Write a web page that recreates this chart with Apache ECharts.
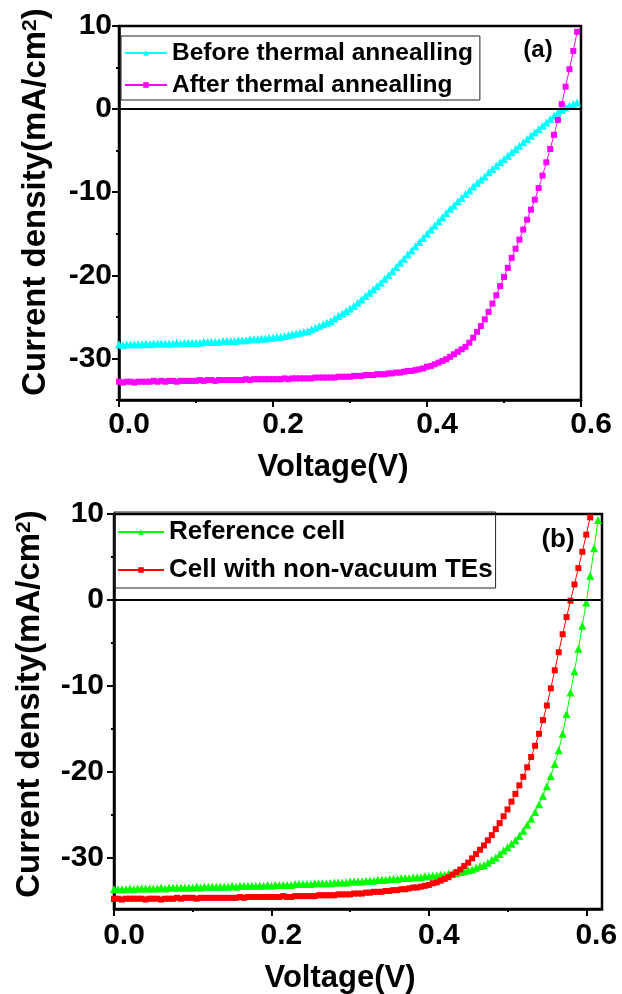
<!DOCTYPE html>
<html>
<head>
<meta charset="utf-8">
<script src="https://cdn.jsdelivr.net/npm/echarts@6.0.0/dist/echarts.min.js"></script>
<style>
  html, body { margin: 0; padding: 0; background: #fff; }
  #main { width: 622px; height: 994px; }
</style>
</head>
<body>
<div id="main"></div>
<script>
// voltage sweep (V), shared by both panels
const voltage = [
  0, 0.005, 0.01, 0.015, 0.02, 0.025, 0.03, 0.035, 0.04, 0.045,
  0.05, 0.055, 0.06, 0.065, 0.07, 0.075, 0.08, 0.085, 0.09, 0.095,
  0.1, 0.105, 0.11, 0.115, 0.12, 0.125, 0.13, 0.135, 0.14, 0.145,
  0.15, 0.155, 0.16, 0.165, 0.17, 0.175, 0.18, 0.185, 0.19, 0.195,
  0.2, 0.205, 0.21, 0.215, 0.22, 0.225, 0.23, 0.235, 0.24, 0.245,
  0.25, 0.255, 0.26, 0.265, 0.27, 0.275, 0.28, 0.285, 0.29, 0.295,
  0.3, 0.305, 0.31, 0.315, 0.32, 0.325, 0.33, 0.335, 0.34, 0.345,
  0.35, 0.355, 0.36, 0.365, 0.37, 0.375, 0.38, 0.385, 0.39, 0.395,
  0.4, 0.405, 0.41, 0.415, 0.42, 0.425, 0.43, 0.435, 0.44, 0.445,
  0.45, 0.455, 0.46, 0.465, 0.47, 0.475, 0.48, 0.485, 0.49, 0.495,
  0.5, 0.505, 0.51, 0.515, 0.52, 0.525, 0.53, 0.535, 0.54, 0.545,
  0.55, 0.555, 0.56, 0.565, 0.57, 0.575, 0.58, 0.585, 0.59, 0.595,
  0.6, 0.605, 0.61, 0.615
]

// (a) current density, mA/cm2
const beforeAnneal = [
  -28.3, -28.4, -28.3, -28.3, -28.3, -28.3, -28.3, -28.2, -28.3, -28.2,
  -28.2, -28.2, -28.2, -28.2, -28.2, -28.1, -28.2, -28.1, -28.1, -28.1,
  -28.1, -28.1, -28.0, -28.0, -28.0, -28.0, -28.0, -27.9, -27.9, -27.9,
  -27.9, -27.8, -27.8, -27.8, -27.7, -27.7, -27.7, -27.6, -27.6, -27.5,
  -27.5, -27.4, -27.4, -27.3, -27.2, -27.1, -27.0, -26.9, -26.8, -26.7,
  -26.5, -26.3, -26.1, -25.9, -25.7, -25.5, -25.2, -24.9, -24.6, -24.3,
  -24.0, -23.7, -23.3, -22.9, -22.5, -22.1, -21.7, -21.3, -20.9, -20.4,
  -20.0, -19.5, -19.0, -18.5, -18.0, -17.5, -17.0, -16.5, -16.0, -15.5,
  -15.0, -14.5, -14.0, -13.5, -13.0, -12.5, -12.0, -11.6, -11.1, -10.7,
  -10.2, -9.8, -9.3, -8.9, -8.5, -8.1, -7.6, -7.2, -6.8, -6.4,
  -6.0, -5.6, -5.2, -4.8, -4.4, -4.0, -3.6, -3.2, -2.8, -2.4,
  -2.0, -1.6, -1.2, -0.8, -0.4, -0.1, 0.2, 0.4, 0.6, 0.8
]
const afterAnneal = [
  -32.8, -32.9, -32.8, -32.8, -32.9, -32.8, -32.8, -32.8, -32.8, -32.7,
  -32.8, -32.7, -32.8, -32.7, -32.7, -32.8, -32.7, -32.7, -32.7, -32.7,
  -32.7, -32.6, -32.7, -32.6, -32.6, -32.7, -32.6, -32.6, -32.6, -32.6,
  -32.6, -32.6, -32.6, -32.5, -32.6, -32.5, -32.5, -32.5, -32.5, -32.5,
  -32.5, -32.5, -32.5, -32.4, -32.5, -32.4, -32.4, -32.4, -32.4, -32.4,
  -32.4, -32.3, -32.3, -32.3, -32.3, -32.3, -32.3, -32.2, -32.2, -32.2,
  -32.2, -32.1, -32.1, -32.1, -32.0, -32.0, -32.0, -31.9, -31.9, -31.9,
  -31.8, -31.8, -31.7, -31.7, -31.6, -31.5, -31.5, -31.4, -31.3, -31.2,
  -31.0, -30.9, -30.7, -30.5, -30.3, -30.1, -29.8, -29.5, -29.2, -28.9,
  -28.6, -28.1, -27.5, -26.8, -26.1, -25.3, -24.4, -23.4, -22.4, -21.3,
  -20.2, -19.1, -17.9, -16.8, -15.7, -14.5, -13.3, -12.1, -10.9, -9.5,
  -8.0, -6.4, -4.8, -3.1, -1.3, 0.6, 2.7, 4.8, 7.0, 9.3
]

// (b) current density, mA/cm2
const referenceCell = [
  -33.7, -33.7, -33.7, -33.7, -33.6, -33.7, -33.6, -33.6, -33.6, -33.6,
  -33.6, -33.6, -33.5, -33.6, -33.5, -33.5, -33.5, -33.5, -33.5, -33.5,
  -33.5, -33.4, -33.5, -33.4, -33.4, -33.4, -33.4, -33.4, -33.4, -33.4,
  -33.3, -33.4, -33.3, -33.3, -33.3, -33.3, -33.3, -33.3, -33.3, -33.2,
  -33.3, -33.2, -33.2, -33.2, -33.2, -33.2, -33.1, -33.1, -33.1, -33.1,
  -33.1, -33.0, -33.0, -33.0, -33.0, -33.0, -32.9, -32.9, -32.9, -32.9,
  -32.8, -32.8, -32.8, -32.8, -32.7, -32.7, -32.7, -32.6, -32.6, -32.6,
  -32.5, -32.5, -32.5, -32.4, -32.4, -32.4, -32.3, -32.3, -32.3, -32.2,
  -32.2, -32.1, -32.1, -32.0, -32.0, -31.9, -31.9, -31.8, -31.7, -31.6,
  -31.5, -31.4, -31.2, -31.0, -30.9, -30.6, -30.3, -30.0, -29.6, -29.2,
  -28.8, -28.4, -28.0, -27.5, -26.9, -26.2, -25.5, -24.7, -23.8, -22.8,
  -21.7, -20.5, -19.1, -17.5, -15.6, -13.3, -10.8, -8.3, -5.7, -3.0,
  -0.3, 2.8, 6.0, 9.3
]
const nonVacuumCell = [
  -34.8, -34.8, -34.9, -34.8, -34.8, -34.8, -34.8, -34.8, -34.9, -34.8,
  -34.8, -34.8, -34.9, -34.8, -34.8, -34.8, -34.7, -34.8, -34.7, -34.7,
  -34.7, -34.8, -34.7, -34.7, -34.7, -34.7, -34.7, -34.7, -34.7, -34.7,
  -34.7, -34.7, -34.6, -34.7, -34.6, -34.6, -34.6, -34.6, -34.6, -34.6,
  -34.6, -34.6, -34.6, -34.5, -34.6, -34.6, -34.5, -34.5, -34.5, -34.5,
  -34.5, -34.5, -34.4, -34.4, -34.4, -34.4, -34.4, -34.3, -34.3, -34.3,
  -34.3, -34.2, -34.2, -34.2, -34.1, -34.1, -34.0, -34.0, -34.0, -33.9,
  -33.9, -33.8, -33.8, -33.7, -33.7, -33.6, -33.5, -33.5, -33.4, -33.3,
  -33.2, -33.0, -32.9, -32.7, -32.5, -32.3, -32.0, -31.7, -31.4, -31.0,
  -30.6, -30.1, -29.6, -29.1, -28.6, -28.0, -27.4, -26.7, -26.0, -25.2,
  -24.4, -23.5, -22.6, -21.6, -20.6, -19.5, -18.3, -17.0, -15.6, -14.0,
  -12.3, -10.3, -8.2, -6.1, -4.0, -2.0, -0.1, 1.8, 3.7, 5.6,
  7.6, 9.6
]

// tick values
const xMajor = [0, 0.2, 0.4, 0.6]
const xMinor = [0.1, 0.3, 0.5]
const yMajor = [-30, -20, -10, 0, 10]
const yMinor = [-35, -25, -15, -5, 5]

const FONT = '"Liberation Sans", Arial, sans-serif'
const BLACK = '#000'

const pairs = (ys) => ys.map((y, i) => [voltage[i], y])

function xAxisPair(grid, max, margin) {
  return [{
    gridIndex: grid, type: 'value', min: 0, max: max, position: 'bottom',
    axisLine: { show: true, onZero: false, lineStyle: { color: BLACK, width: 2.5 } },
    axisTick: { show: true, customValues: xMajor, length: 7, lineStyle: { color: BLACK, width: 2 } },
    axisLabel: {
      customValues: xMajor, formatter: v => v.toFixed(1), color: BLACK,
      fontFamily: FONT, fontWeight: 'bold', fontSize: 30, margin: margin, padding: [0, 0, 0, 20]
    },
    splitLine: { show: false }
  }, {
    gridIndex: grid, type: 'value', min: 0, max: max, position: 'bottom',
    axisLine: { show: false, onZero: false },
    axisTick: { show: true, customValues: xMinor, length: 3, lineStyle: { color: BLACK, width: 2 } },
    axisLabel: { show: false },
    splitLine: { show: false }
  }]
}

function yAxisPair(grid, min, margin) {
  return [{
    gridIndex: grid, type: 'value', min: min, max: 10, position: 'left',
    axisLine: { show: true, onZero: false, lineStyle: { color: BLACK, width: 2.5 } },
    axisTick: { show: true, customValues: yMajor, length: 7, lineStyle: { color: BLACK, width: 2 } },
    axisLabel: {
      customValues: yMajor, color: BLACK, fontFamily: FONT, fontWeight: 'bold',
      fontSize: 30, margin: margin
    },
    splitLine: { show: false }
  }, {
    gridIndex: grid, type: 'value', min: min, max: 10, position: 'left',
    axisLine: { show: false, onZero: false },
    axisTick: { show: true, customValues: yMinor, length: 3, lineStyle: { color: BLACK, width: 2 } },
    axisLabel: { show: false },
    splitLine: { show: false }
  }]
}

const zeroLine = {
  silent: true, symbol: ['none', 'none'], label: { show: false },
  lineStyle: { color: BLACK, width: 2, type: 'solid' },
  data: [{ yAxis: 0 }]
}

function curve(name, data, color, symbol, size, xi, yi, withZero) {
  const s = {
    name: name, type: 'line', data: data, xAxisIndex: xi, yAxisIndex: yi,
    symbol: symbol, symbolSize: size, showSymbol: true, showAllSymbol: true,
    lineStyle: { color: color, width: 1 }, itemStyle: { color: color },
    animation: false
  }
  if (withZero) s.markLine = zeroLine
  return s
}

function title(text, x, y, size) {
  return {
    type: 'text', x: x, y: y,
    style: { text: text, fill: BLACK, font: 'bold ' + size + 'px ' + FONT, align: 'center', verticalAlign: 'middle' }
  }
}

function yTitle(x, y, size) {
  return {
    type: 'text', x: x, y: y, rotation: Math.PI / 2,
    style: {
      text: 'Current density(mA/cm{sup|2})', fill: BLACK,
      fontFamily: FONT, fontWeight: 'bold', fontSize: size,
      align: 'center', verticalAlign: 'middle',
      rich: { sup: { fontFamily: FONT, fontWeight: 'bold', fontSize: 21, verticalAlign: 'top', fill: BLACK } }
    }
  }
}

const chart = echarts.init(document.getElementById('main'))
chart.setOption({
  animation: false,
  grid: [
    { left: 119, top: 26, width: 462, height: 374, show: true, borderColor: BLACK, borderWidth: 2.5, containLabel: false },
    { left: 114, top: 514, width: 488, height: 395, show: true, borderColor: BLACK, borderWidth: 2.5, containLabel: false }
  ],
  xAxis: [...xAxisPair(0, 0.6, 10), ...xAxisPair(1, 0.62, 12)],
  yAxis: [...yAxisPair(0, -35, 7), ...yAxisPair(1, -36, 10)],
  legend: [{
    data: ['Before thermal annealling', 'After thermal annealling'],
    orient: 'vertical', left: 121, top: 36, padding: [4, 7, 2, 3], itemGap: 6,
    itemWidth: 42, itemHeight: 7, borderColor: '#222', borderWidth: 1, selectedMode: false,
    textStyle: { color: BLACK, fontFamily: FONT, fontWeight: 'bold', fontSize: 24.5, lineHeight: 26 }
  }, {
    data: ['Reference cell', 'Cell with non-vacuum TEs'],
    orient: 'vertical', left: 114, top: 512, padding: [7, 3, 5, 3], itemGap: 12,
    itemWidth: 46, itemHeight: 7, borderColor: '#222', borderWidth: 1, selectedMode: false,
    textStyle: { color: BLACK, fontFamily: FONT, fontWeight: 'bold', fontSize: 26, lineHeight: 26 }
  }],
  series: [
    curve('Before thermal annealling', pairs(beforeAnneal), '#00FFFF', 'triangle', 8, 0, 0, true),
    curve('After thermal annealling', pairs(afterAnneal), '#FF00FF', 'rect', 6, 0, 0, false),
    curve('Reference cell', pairs(referenceCell), '#00FF00', 'triangle', 8, 2, 2, true),
    curve('Cell with non-vacuum TEs', pairs(nonVacuumCell), '#FF0000', 'rect', 6, 2, 2, false)
  ],
  graphic: [
    title('(a)', 538, 50, 24),
    title('(b)', 558, 540, 26),
    title('Voltage(V)', 333, 467, 31),
    title('Voltage(V)', 340, 978, 31),
    yTitle(36, 202, 33),
    yTitle(30, 704, 33)
  ]
})
</script>
</body>
</html>
